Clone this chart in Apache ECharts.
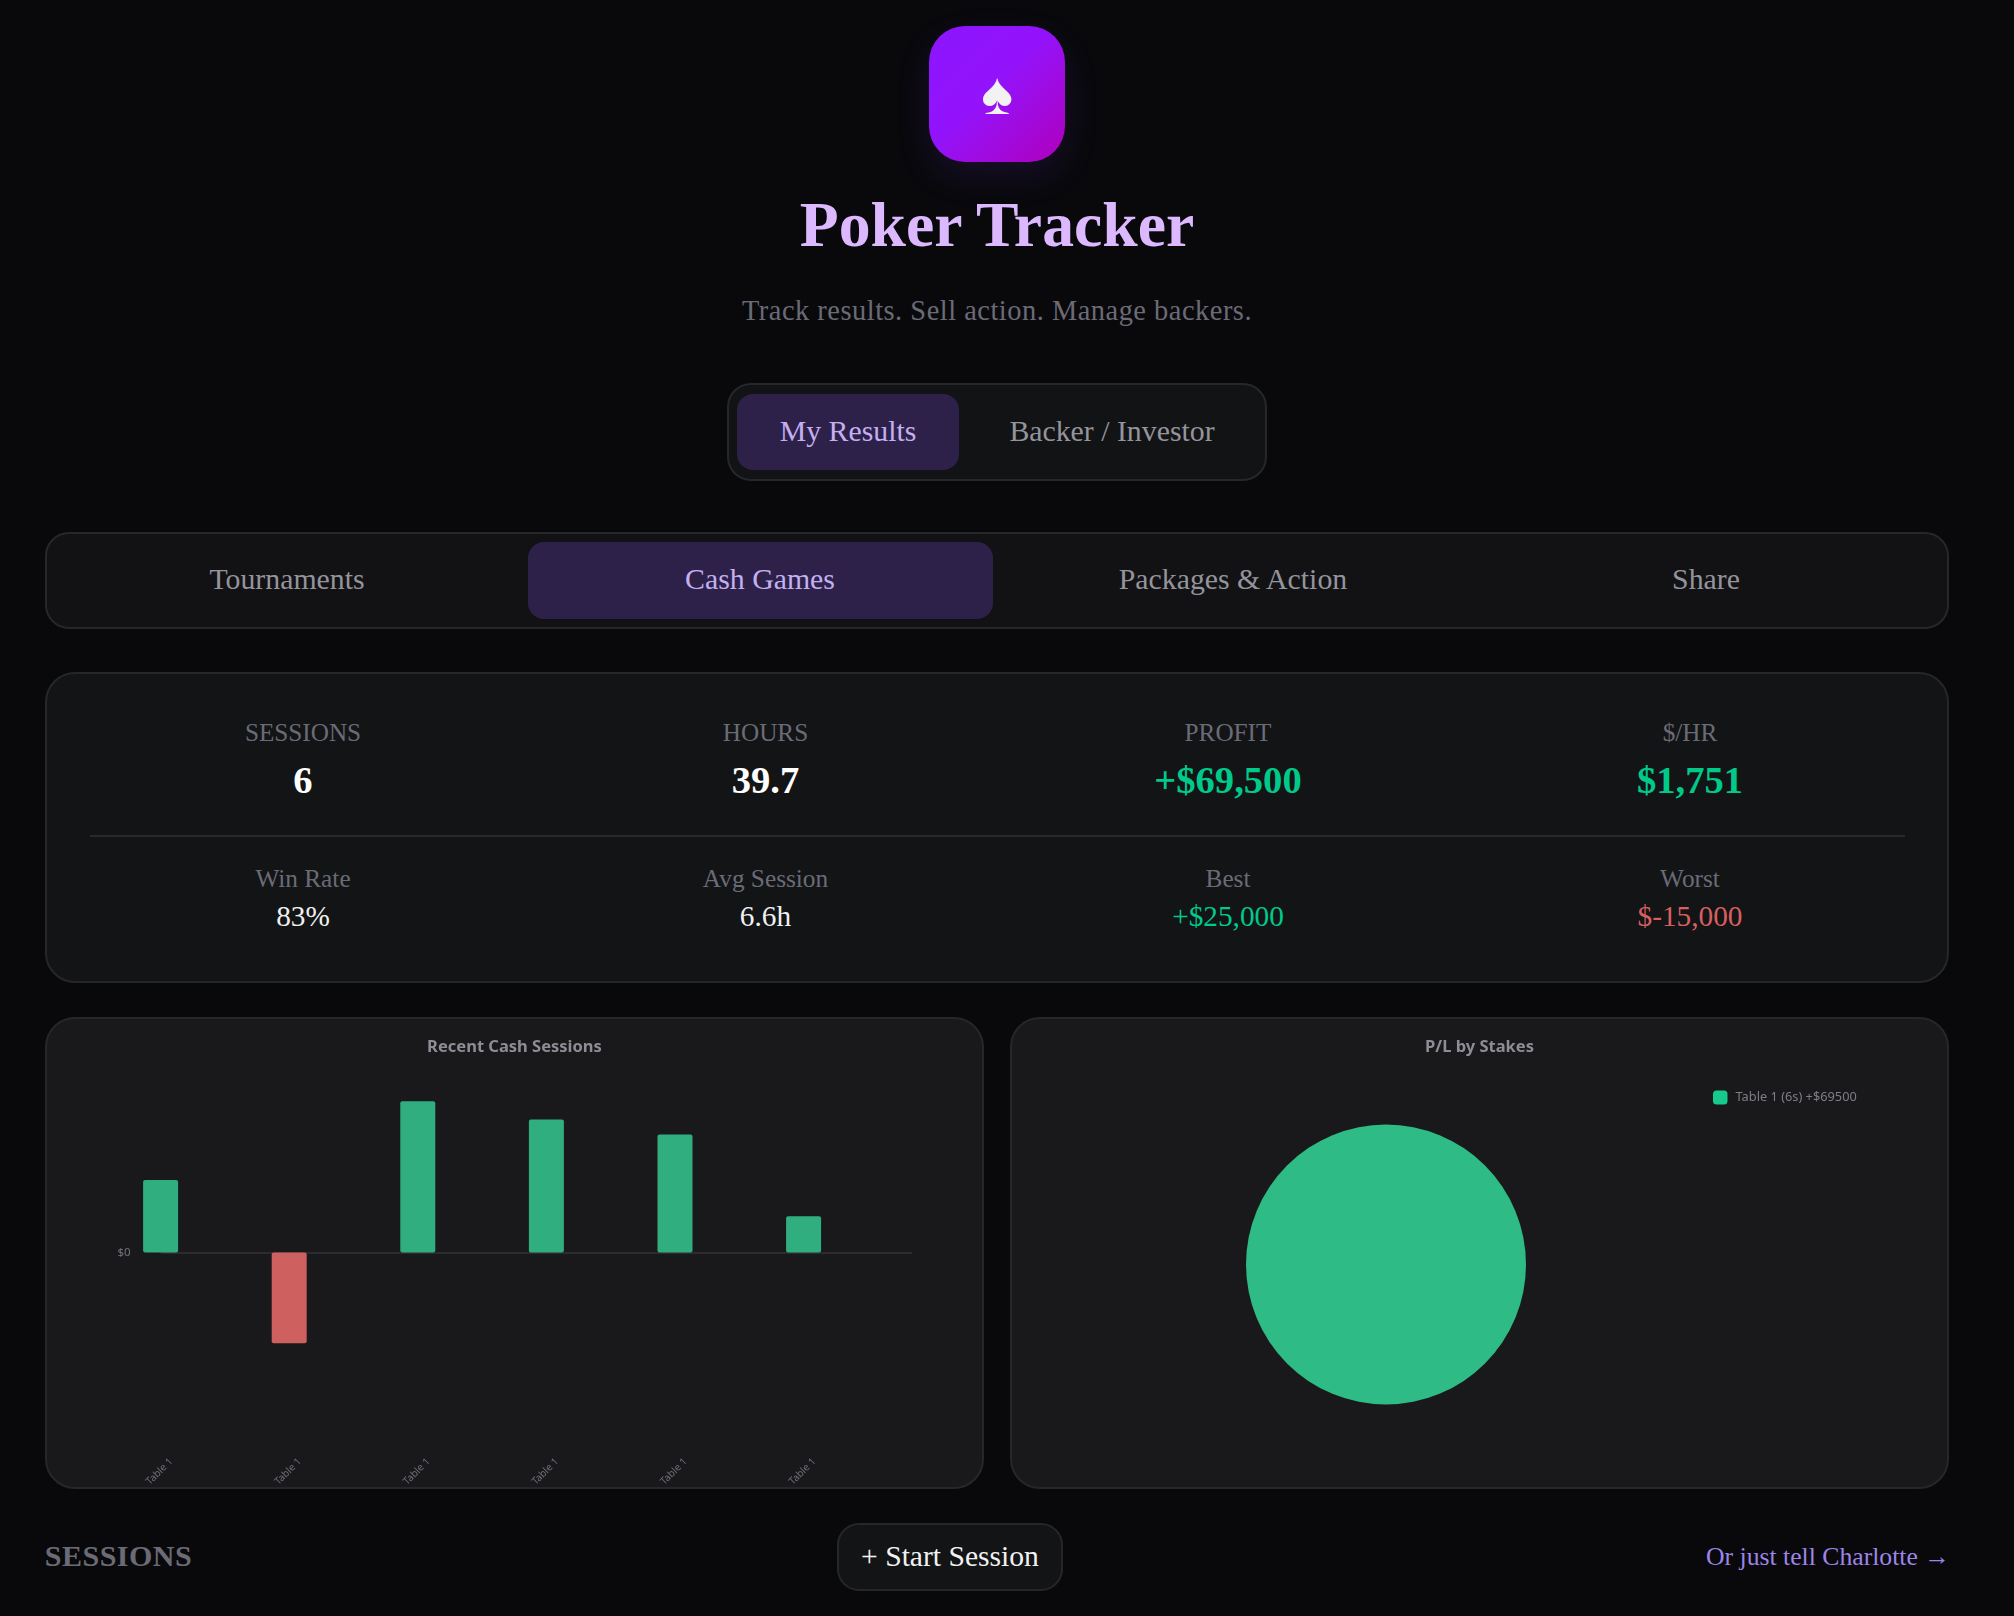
<!DOCTYPE html>
<html><head><meta charset="utf-8">
<script src="https://cdn.jsdelivr.net/npm/echarts@6/dist/echarts.min.js"></script>
<style>
html,body{margin:0;padding:0;background:#09090c;width:2014px;height:1616px;overflow:hidden}
body{position:relative;font-family:"Liberation Serif",serif}
.box{position:absolute;box-sizing:border-box}
.t{position:absolute;transform:translate(-50%,-50%);white-space:nowrap;line-height:1}
.chart{position:absolute}
</style></head><body>
<div id="root"></div>
<div class="chart" id="barChart" style="left:45px;top:1017px;width:939px;height:472px"></div>
<div class="chart" id="pieChart" style="left:1010px;top:1017px;width:939px;height:472px"></div>
<script>
// ---- chart data ----
const sessionLabels = ['Table 1','Table 1','Table 1','Table 1','Table 1','Table 1'];
const sessionProfit = [12000,-15000,25000,22000,19500,6000];
const stakeNames = ['Table 1 (6s) +$69500'];
const stakeValues = [69500];
// ---- page text ----
const topStatLabels = ['SESSIONS','HOURS','PROFIT','$/HR'];
const topStatValues = ['6','39.7','+$69,500','$1,751'];
const subStatLabels = ['Win Rate','Avg Session','Best','Worst'];
const subStatValues = ['83%','6.6h','+$25,000','$-15,000'];
const modeTabs = ['My Results','Backer / Investor'];
const mainTabs = ['Tournaments','Cash Games','Packages & Action','Share'];

const root = document.getElementById('root');
function box(l,t,w,h,css){const d=document.createElement('div');d.className='box';
  d.style.cssText=`left:${l}px;top:${t}px;width:${w}px;height:${h}px;${css}`;root.appendChild(d);return d;}
function text(s,cx,cy,size,color,extra){const d=document.createElement('div');d.className='t';d.textContent=s;
  d.style.cssText=`left:${cx}px;top:${cy}px;font-size:${size}px;color:${color};${extra||''}`;root.appendChild(d);return d;}

const GREEN='#00c98a', RED='#d85f5f', MUTED='#6b6b76', BORDER='#26272b';
// logo
box(929,26,136,136,'border-radius:36px;background:linear-gradient(135deg,#8b16ff 0%,#9313fb 45%,#b000bc 100%);box-shadow:0 14px 36px rgba(124,58,237,.12)');
text('♠',997,94,60,'#f2f2f2');
text('Poker Tracker',997,225,63.7,'#dcb8ff','font-weight:700');
text('Track results. Sell action. Manage backers.',997,311,28.4,MUTED,'letter-spacing:.52px');
// mode toggle
box(727,383,540,98,`border-radius:24px;background:#121315;border:2px solid ${BORDER}`);
box(737,394,222,76,'border-radius:16px;background:#2d2149');
text(modeTabs[0],848,431,29.8,'#c4aff0');
text(modeTabs[1],1112,431,29.8,'#94949c');
// main tabs
box(45,532,1904,97,`border-radius:24px;background:#121214;border:2px solid ${BORDER}`);
box(528,542,465,77,'border-radius:16px;background:#2d2149');
[287,760,1233,1706].forEach((x,i)=>text(mainTabs[i],x,579,29.8,i===1?'#c4aff0':'#94949c'));
// stats card
box(45,672,1904,311,`border-radius:30px;background:#131416;border:2px solid ${BORDER}`);
box(90,835,1815,2,`background:#29292d`);
const cols=[303,765.5,1228,1690];
const topColors=['#fff','#fff',GREEN,GREEN], subColors=['#f0f0f0','#f0f0f0',GREEN,RED];
cols.forEach((x,i)=>{
  text(topStatLabels[i],x,733,25.2,MUTED);
  text(topStatValues[i],x,780,38.6,topColors[i],'font-weight:700');
  text(subStatLabels[i],x,879,25.3,MUTED);
  text(subStatValues[i],x,917,29.3,subColors[i]);
});
// chart cards
box(45,1017,939,472,`border-radius:30px;background:#19191c;border:2px solid ${BORDER}`);
box(1010,1017,939,472,`border-radius:30px;background:#19191c;border:2px solid ${BORDER}`);
// footer
text('SESSIONS',118.5,1556,30,MUTED,'font-weight:700;letter-spacing:.5px');
box(837,1523,226,68,`border-radius:22px;background:#131416;border:2px solid ${BORDER}`);
text('+ Start Session',950,1556.5,29.6,'#f2f2f2');
text('Or just tell Charlotte →',1828,1556.5,25.7,'#9d85e8');

const FONT='"Noto Sans"';
const bar=echarts.init(document.getElementById('barChart'),null,{renderer:'canvas'});
bar.setOption({
  animation:false,
  title:{text:'Recent Cash Sessions',left:'center',top:16.5,textStyle:{color:'#8d8d95',fontSize:16.5,fontWeight:700,fontFamily:FONT}},
  grid:{left:115.6,top:54,width:751.4,height:366,containLabel:false},
  xAxis:{type:'value',min:0,max:5.843,interval:1,
    axisLine:{show:false},axisTick:{show:false},splitLine:{show:false},
    axisLabel:{rotate:45,margin:36.5,align:'center',verticalAlign:'middle',color:'#70707a',fontSize:10,fontFamily:FONT,
      padding:[0,3,0,0],formatter:v=>sessionLabels[v]||''}},
  yAxis:{type:'value',min:-30000,max:30000,interval:30000,
    axisLine:{show:false},axisTick:{show:false},
    splitLine:{show:true,showMinLine:false,showMaxLine:false,lineStyle:{color:'#2c2c30',width:2}},
    axisLabel:{margin:30,color:'#73737b',fontSize:11.5,fontFamily:FONT,formatter:v=>v===0?'$0':''}},
  series:[{type:'bar',barWidth:35,clip:false,
    data:sessionProfit.map((v,i)=>({value:[i,v],itemStyle:{color:v>=0?'#31ae80':'#cf6060',borderRadius:2}}))}]
});
const pie=echarts.init(document.getElementById('pieChart'),null,{renderer:'canvas'});
pie.setOption({
  animation:false,
  title:{text:'P/L by Stakes',left:'center',top:16.5,textStyle:{color:'#8d8d95',fontSize:16.5,fontWeight:700,fontFamily:FONT}},
  legend:{left:698,top:68.5,orient:'vertical',itemWidth:14.5,itemHeight:14,itemGap:8,icon:'roundRect',
    textStyle:{color:'#7d7d85',fontSize:12.8,fontFamily:FONT,padding:[0,0,0,3]},
    data:stakeNames.map(n=>({name:n,itemStyle:{color:'#17c98b'}}))},
  series:[{type:'pie',center:[376,247.5],radius:[0,140],label:{show:false},labelLine:{show:false},silent:true,
    itemStyle:{color:'#2fbb85'},
    data:stakeNames.map((n,i)=>({name:n,value:stakeValues[i]}))}]
});
</script></body></html>
